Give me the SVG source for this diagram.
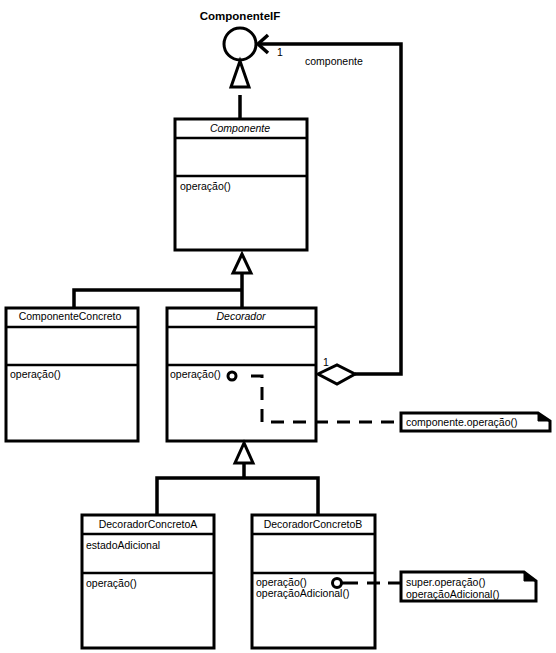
<svg xmlns="http://www.w3.org/2000/svg" width="556" height="653" viewBox="0 0 556 653">
<style>
.box{fill:#fff;stroke:#000;stroke-width:3}
.sep{stroke:#000;stroke-width:2.5}
.ln{fill:none;stroke:#000;stroke-width:3.5}
.dash{fill:none;stroke:#000;stroke-width:3;stroke-dasharray:13 9}
.tri{fill:#fff;stroke:#000;stroke-width:3;stroke-linejoin:miter}
text{font-family:"Liberation Sans",Arial,sans-serif;font-size:10.5px;fill:#000}
.c{text-anchor:middle}
.i{font-style:italic}
.b{font-weight:bold;font-size:11.5px}
</style>
<rect width="556" height="653" fill="#fff"/>
<g id="ComponenteIF">
  <circle cx="240" cy="44" r="16" fill="#fff" stroke="#000" stroke-width="3"/>
  <text class="c b" x="240" y="20">ComponenteIF</text>
</g>
<g id="Componente">
  <rect class="box" x="175" y="119" width="132" height="131"/>
  <line class="sep" x1="175" y1="138" x2="307" y2="138"/>
  <line class="sep" x1="175" y1="176" x2="307" y2="176"/>
  <text class="c i" x="240" y="132">Componente</text>
  <text x="180" y="190">operação()</text>
</g>
<g id="ComponenteConcreto">
  <rect class="box" x="6" y="308" width="132" height="133"/>
  <line class="sep" x1="6" y1="327" x2="138" y2="327"/>
  <line class="sep" x1="6" y1="365" x2="138" y2="365"/>
  <text class="c" x="70" y="320">ComponenteConcreto</text>
  <text x="10" y="378">operação()</text>
</g>
<g id="Decorador">
  <rect class="box" x="167" y="308" width="149" height="133"/>
  <line class="sep" x1="167" y1="327" x2="316" y2="327"/>
  <line class="sep" x1="167" y1="365" x2="316" y2="365"/>
  <text class="c i" x="241" y="320">Decorador</text>
  <text x="170" y="378">operação()</text>
</g>
<g id="DecoradorConcretoA">
  <rect class="box" x="82" y="515" width="132" height="133"/>
  <line class="sep" x1="82" y1="534" x2="214" y2="534"/>
  <line class="sep" x1="82" y1="573" x2="214" y2="573"/>
  <text class="c" x="148" y="528">DecoradorConcretoA</text>
  <text x="86" y="549">estadoAdicional</text>
  <text x="86" y="587">operação()</text>
</g>
<g id="DecoradorConcretoB">
  <rect class="box" x="252" y="515" width="123" height="133"/>
  <line class="sep" x1="252" y1="534" x2="375" y2="534"/>
  <line class="sep" x1="252" y1="573" x2="375" y2="573"/>
  <text class="c" x="313" y="528">DecoradorConcretoB</text>
  <text x="256" y="586">operação()</text>
  <text x="256" y="597">operaçãoAdicional()</text>
</g>
<g id="NotaA">
  <polygon points="401,413 538,413 550,421 550,431 401,431" fill="#fff" stroke="#000" stroke-width="3"/>
  <polygon points="538,413 550,421 538,421" fill="#000" stroke="#000" stroke-width="1"/>
  <text x="406" y="426">componente.operação()</text>
</g>
<g id="NotaB">
  <polygon points="401,572 524,572 536,581 536,601 401,601" fill="#fff" stroke="#000" stroke-width="3"/>
  <polygon points="524,572 536,581 524,581" fill="#000" stroke="#000" stroke-width="1"/>
  <text x="406" y="586">super.operação()</text>
  <text x="406" y="598">operaçãoAdicional()</text>
</g>
<g id="connectors">
  <polyline class="ln" points="355,374 401,374 401,44 258,44"/>
  <polyline class="ln" points="268,35 258,44 268,53"/>
  <polygon class="tri" points="318,374 337,365 355,374 337,384"/>
  <text x="323" y="366">1</text>
  <text x="277" y="56">1</text>
  <text x="305" y="65">componente</text>
  <line class="ln" x1="240" y1="95" x2="240" y2="119"/>
  <polygon class="tri" points="240,61 231,87 249,87"/>
  <polyline class="ln" points="74,308 74,290 242,290"/>
  <line class="ln" x1="242" y1="308" x2="242" y2="273"/>
  <polygon class="tri" points="242,254 233,273 251,273"/>
  <polyline class="ln" points="157,515 157,478 318,478 318,515"/>
  <line class="ln" x1="244" y1="478" x2="244" y2="463"/>
  <polygon class="tri" points="244,443 235,463 253,463"/>
  <path class="dash" d="M251,376 H262 V422 H401"/>
  <line class="ln" x1="342" y1="583" x2="401" y2="583" style="stroke-width:3;stroke-dasharray:16 9 13 8 13"/>
  <circle cx="232" cy="376" r="4" fill="#fff" stroke="#000" stroke-width="3"/>
  <circle cx="337" cy="583" r="4.5" fill="#fff" stroke="#000" stroke-width="3"/>
</g>
</svg>
